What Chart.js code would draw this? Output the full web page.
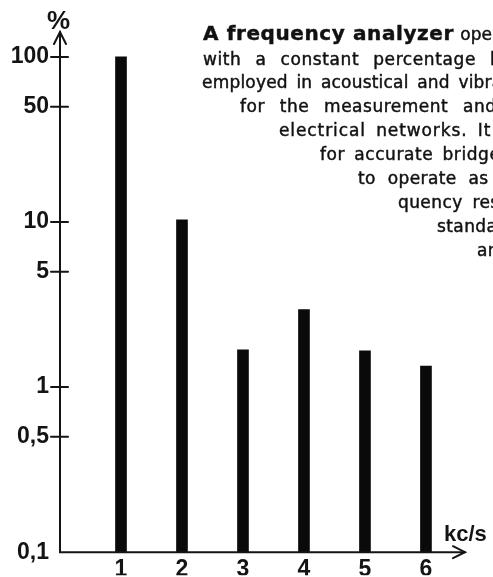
<!DOCTYPE html>
<html><head><meta charset="utf-8">
<script src="https://cdn.jsdelivr.net/npm/chart.js@4.4.1/dist/chart.umd.min.js"></script>
<style>
html,body{margin:0;padding:0;background:#fff;overflow:hidden;width:493px;height:577px;}
#wrap{position:relative;width:493px;height:577px;overflow:hidden;background:#fff;}
#c{position:absolute;left:0;top:0;}
.t{position:absolute;white-space:nowrap;font-family:"DejaVu Sans",sans-serif;font-size:17px;line-height:20px;color:#111;-webkit-text-stroke:0.45px #111;}
.lbl{position:absolute;white-space:nowrap;font-family:"Liberation Sans",sans-serif;font-weight:bold;color:#141414;line-height:1;}
</style></head>
<body><div id="wrap">
<canvas id="c" width="493" height="577"></canvas>
<div class="t" style="left:203px;top:21px;font-size:20px;line-height:24px;"><b style="letter-spacing:0.6px;">A frequency analyzer</b> <span style="font-size:17px;">operates</span></div>
<div class="t" style="left:203px;top:49px;word-spacing:8px;letter-spacing:0.6px;">with a constant percentage bandwidth</div>
<div class="t" style="left:202px;top:72px;word-spacing:3px;letter-spacing:0.2px;">employed in acoustical and vibration</div>
<div class="t" style="left:240px;top:96px;word-spacing:9px;letter-spacing:0.5px;">for the measurement and</div>
<div class="t" style="left:279px;top:120px;word-spacing:4px;letter-spacing:0.9px;">electrical networks. It is</div>
<div class="t" style="left:320px;top:144px;word-spacing:3px;letter-spacing:0.6px;">for accurate bridge</div>
<div class="t" style="left:358px;top:168px;word-spacing:6px;letter-spacing:0.4px;">to operate as</div>
<div class="t" style="left:398px;top:192px;word-spacing:4px;letter-spacing:0.4px;">quency response</div>
<div class="t" style="left:437px;top:216px;letter-spacing:0.4px;">standard</div>
<div class="t" style="left:477px;top:240px;letter-spacing:0.4px;">and</div>
<div class="lbl" style="left:47px;top:7px;font-size:26px;">%</div>
<div class="lbl" style="left:444px;top:523px;font-size:22px;">kc/s</div>
</div>
<script>
// ---- data ----
const xCategories = [1, 2, 3, 4, 5, 6];
const xTickLabels = ['1', '2', '3', '4', '5', '6'];
const amplitudes = [100, 10.3, 1.68, 2.95, 1.66, 1.34];
const yTickValues = [0.1, 0.5, 1, 5, 10, 50, 100];
const yTickLabels = ['0,1', '0,5', '1', '5', '10', '50', '100'];

const INK = '#141414';
const tickFont = {family: '"Liberation Sans", sans-serif', size: 23, weight: 'bold'};

const axesPlugin = {
  id: 'axesArrows',
  afterDraw(chart) {
    const {ctx, chartArea} = chart;
    const ys = chart.scales.y;
    const L = chartArea.left, B = chartArea.bottom, T = chartArea.top, R = chartArea.right;
    ctx.save();
    ctx.strokeStyle = INK;
    ctx.lineWidth = 2;
    ctx.lineCap = 'round';
    ctx.beginPath();
    ctx.moveTo(L, T); ctx.lineTo(L, B); ctx.lineTo(R, B);
    ctx.stroke();
    ctx.beginPath();
    ctx.moveTo(L - 6, T + 12); ctx.lineTo(L, T); ctx.lineTo(L + 6, T + 12);
    ctx.moveTo(R - 12, B - 6); ctx.lineTo(R, B); ctx.lineTo(R - 12, B + 6);
    ctx.stroke();
    ys.ticks.forEach((t) => {
      if (t.value === yTickValues[0]) return;
      const py = ys.getPixelForValue(t.value);
      ctx.beginPath();
      ctx.moveTo(L - 9, py); ctx.lineTo(L + 8, py);
      ctx.stroke();
    });
    ctx.restore();
  }
};

new Chart(document.getElementById('c'), {
  type: 'bar',
  data: {
    datasets: [{
      data: xCategories.map((x, i) => ({x: x, y: amplitudes[i]})),
      backgroundColor: '#0a0a0a',
      borderWidth: 0,
      barThickness: 11,
      base: yTickValues[0]
    }]
  },
  options: {
    responsive: false,
    animation: false,
    devicePixelRatio: 1,
    layout: {padding: {left: 0, right: 28, top: 32, bottom: 0}},
    plugins: {legend: {display: false}, tooltip: {enabled: false}},
    scales: {
      x: {
        type: 'linear', min: 0, max: 6.64, offset: false,
        grid: {display: false, drawTicks: false, offset: false},
        border: {display: false},
        afterBuildTicks: s => { s.ticks = xCategories.map(v => ({value: v})); },
        afterFit: s => { s.height = 23; },
        ticks: {
          autoSkip: false, maxRotation: 0, padding: 4,
          color: INK, font: tickFont,
          callback: (v, i) => xTickLabels[i]
        }
      },
      y: {
        type: 'logarithmic', min: 0.1, max: 141.6,
        grid: {display: false, drawTicks: false},
        border: {display: false},
        afterBuildTicks: s => { s.ticks = yTickValues.map(v => ({value: v})); },
        afterFit: s => { s.width = 60; },
        ticks: {
          autoSkip: false, padding: 11,
          color: INK, font: tickFont,
          callback: (v, i) => yTickLabels[i]
        }
      }
    }
  },
  plugins: [axesPlugin]
});
</script>
</body></html>
